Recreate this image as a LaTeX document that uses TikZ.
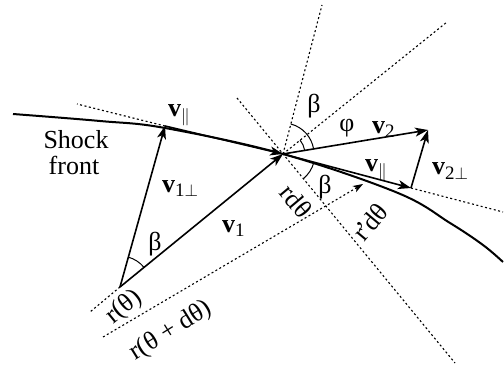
\documentclass[tikz,border=0pt]{standalone}
\usepackage{fontspec}
\setmainfont{Liberation Serif}
\usetikzlibrary{arrows.meta}
\newcommand{\lowsub}[1]{\raisebox{-0.35ex}{\fontsize{19}{19}\selectfont #1}}
\newcommand{\vlab}[1]{\textbf{v}\lowsub{#1}}
\tikzset{
  dotline/.style={line width=1.1pt, dash pattern=on 2pt off 2.5pt},
  vec/.style={line width=1.6pt, -{Stealth[length=13pt,width=9pt,inset=3.5pt]}},
  smallvec/.style={line width=1.1pt, dash pattern=on 2pt off 2.5pt, -{Stealth[length=10pt,width=7pt,inset=2.5pt]}},
  front/.style={line width=2pt},
  anglearc/.style={line width=1pt},
  lab/.style={inner sep=0pt, font=\fontsize{26}{26}\selectfont}
}
\begin{document}
\begin{tikzpicture}[x=1pt,y=1pt]
\useasboundingbox (0,0) rectangle (504,373);
% key points
\coordinate (P) at (283,219);
\coordinate (A) at (120,86);
\coordinate (B) at (165,247);
\coordinate (C) at (428,243);
\coordinate (D) at (411,185);
\coordinate (L1a) at (237,275);
\coordinate (L1b) at (455,10);
\coordinate (L2) at (322,368);
\coordinate (L3) at (447,351);
\coordinate (TL) at (77,269);
\coordinate (TR) at (503,161);
\coordinate (R0) at (90,61);
\coordinate (R1s) at (103,36);
\coordinate (R1e) at (363,189);
% dotted construction lines
\draw[dotline] (L1a) -- (L1b);
\draw[dotline] (P) -- (L2);
\draw[dotline] (P) -- (L3);
\draw[dotline] (B) -- (TL);
\draw[dotline] (D) -- (TR);
\draw[dotline] (A) -- (R0);
\draw[smallvec] (R1s) -- (R1e);
% shock front
\draw[front] plot[smooth, tension=0.6] coordinates {(13,259) (100,252) (165,245) (283,219) (398,180) (450,150) (483,128) (503,111)};
% vectors
\draw[vec] (A) -- (P);
\draw[vec] (A) -- (B);
\draw[vec] (B) -- (P);
\draw[vec] (P) -- (C);
\draw[vec] (P) -- (D);
\draw[vec] (D) -- (C);
% angle arcs
\draw[anglearc] (A) ++(39.2:31pt) arc[start angle=39.2, end angle=74.4, radius=31pt];
\draw[anglearc] (P) ++(9.4:31pt) arc[start angle=9.4, end angle=75.3, radius=31pt];
\draw[anglearc] (P) ++(9.4:22pt) arc[start angle=9.4, end angle=39.2, radius=22pt];
\draw[anglearc] (P) ++(-50.6:32pt) arc[start angle=-50.6, end angle=-14.9, radius=32pt];
% labels
\node[lab, anchor=base] (shock) at (76,225) {Shock};
\node[lab, anchor=base] (frontlab) at (74,199) {front};
\node[lab, anchor=base west] (vpar1) at (168,256) {\vlab{$\parallel$}};
\node[lab, anchor=base west] (v1perp) at (162,181) {\vlab{1$\perp$}};
\node[lab, anchor=base west] (v1) at (222,141) {\vlab{1}};
\node[lab] (beta1) at (155,129) {β};
\node[lab, rotate=39] (rth) at (124,66) {r(θ)};
\node[lab, rotate=32] (rthd) at (171,42) {r(θ + dθ)};
\node[lab, anchor=base west] (v2) at (372,240) {\vlab{2}};
\node[lab] (phi) at (347,245) {φ};
\node[lab] (beta2) at (314,267) {β};
\node[lab, anchor=base west] (vpar2) at (365,201) {\vlab{$\parallel$}};
\node[lab, anchor=base west] (v2perp) at (432,198) {\vlab{2$\perp$}};
\node[lab] (beta3) at (325,186) {β};
\node[lab, rotate=-50] (rdth) at (296,172) {rdθ};
\node[lab, rotate=50] (rpdth) at (370,151) {r\kern-1.5pt'\kern-2pt dθ};
\end{tikzpicture}
\end{document}
